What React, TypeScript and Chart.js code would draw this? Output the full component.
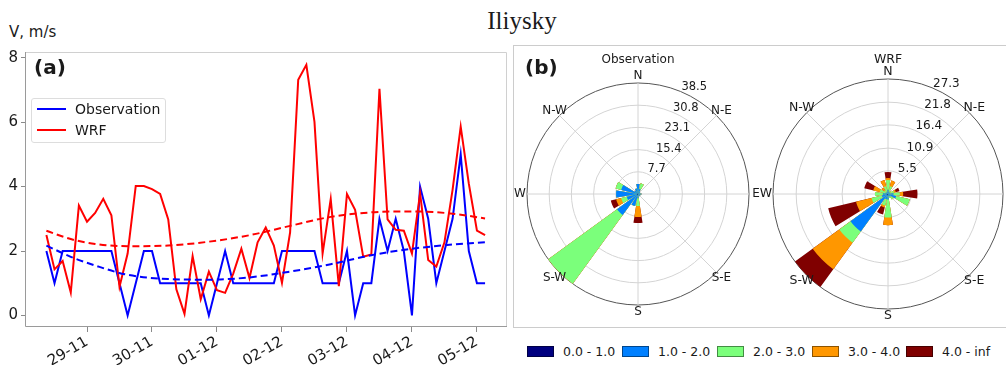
import React, { useEffect, useRef } from 'react';
import { Chart, registerables } from 'chart.js';

Chart.register(...registerables);
Chart.defaults.font.family = 'DejaVu Sans';
Chart.defaults.color = '#1a1a1a';

// ---------- panel (a): 3-hourly wind speed, first sample 28-11 09:00 ----------
const dayLabels = ['29-11', '30-11', '01-12', '02-12', '03-12', '04-12', '05-12'];
const startHour = -15; // hours relative to 29-11 00:00
const stepHours = 3;

const observation = [
  2, 1, 2, 2, 2, 2, 2, 2, 2, 1,
  0, 1, 2, 2, 1, 1, 1, 1, 1, 1,
  0, 1, 2, 1, 1, 1, 1, 1, 1, 2,
  2, 2, 2, 2, 1, 1, 1, 2, 0, 1,
  1, 3, 2, 3, 2, 0, 4, 3, 1, 2,
  3, 5, 2, 1, 1,
];
const wrf = [
  2.5, 1.43, 1.69, 0.71, 3.41, 2.91, 3.18, 3.62, 3.11, 0.89,
  1.92, 4.02, 4.02, 3.92, 3.77, 2.98, 0.81, 0.05, 1.84, 0.5,
  1.36, 0.78, 0.7, 1.3, 2.07, 1.16, 2.27, 2.73, 2.17, 1.01,
  2.58, 7.32, 7.78, 6.01, 1.92, 3.61, 0.91, 3.77, 3.28, 1.82,
  1.89, 7.04, 2.98, 2.66, 2.63, 1.92, 3.79, 1.72, 1.52, 2.27,
  3.9, 5.86, 4.09, 2.63, 2.49,
];
// smoothed trends, sampled at these sample indices
const trendIndex = [0, 3, 6, 10, 15, 20, 25, 30, 35, 40, 45, 50, 54];
const observationTrend = [2.17, 1.82, 1.55, 1.26, 1.13, 1.11, 1.18, 1.36, 1.59, 1.87, 2.07, 2.2, 2.27];
const wrfTrend = [2.63, 2.37, 2.22, 2.15, 2.17, 2.29, 2.49, 2.78, 3.06, 3.2, 3.23, 3.16, 3.01];

// ---------- panel (b): wind roses, 16 sectors N, NNE, ... NNW (percent) ----------
const compassLabels = ['N', 'N-E', 'E', 'S-E', 'S', 'S-W', 'W', 'N-W'];
const speedBins = ['0.0 - 1.0', '1.0 - 2.0', '2.0 - 3.0', '3.0 - 4.0', '4.0 - inf'];
const binColors = ['#000080', '#0080ff', '#7bff7b', '#ff9700', '#800000'];

const obsRings = [7.7, 15.4, 23.1, 30.8, 38.5];
const obsBin0 = [0.3, 0, 0, 0, 0, 0, 0, 0, 0, 0.3, 0.5, 0.3, 0.3, 0, 0, 0];
const obsBin1 = [3.2, 1.8, 1.0, 0.6, 1.2, 0.8, 1.0, 0.6, 1.5, 4.0, 8.5, 3.7, 7.3, 6.0, 1.5, 2.0];
const obsBin2 = [0, 2.0, 0, 0, 0, 0, 0, 0, 2.7, 0, 29.5, 2.0, 0, 2.0, 0, 0];
const obsBin3 = [0, 0, 0, 0, 0, 0, 0, 0, 3.8, 0, 0, 1.8, 0, 0, 0, 0];
const obsBin4 = [0, 0, 0, 0, 0, 0, 0, 0, 2.1, 0, 0, 1.9, 0, 0, 0, 0];

const wrfRings = [5.5, 10.9, 16.4, 21.8, 27.3];
const wrfBin0 = [0, 0, 0, 0, 0, 0, 0, 0, 0.3, 0.3, 0.3, 0.3, 0, 0, 0, 0];
const wrfBin1 = [1.0, 0.6, 0.5, 0.5, 1.3, 2.0, 0.8, 0.5, 1.0, 1.0, 10.7, 1.2, 1.2, 0.6, 0.5, 0.6];
const wrfBin2 = [2.3, 1.3, 0.4, 1.0, 1.5, 3.3, 0.8, 0.5, 4.3, 1.5, 3.3, 2.5, 1.9, 1.4, 0.6, 1.3];
const wrfBin3 = [0.5, 1.4, 0, 0.4, 0.8, 0, 0, 0, 1.8, 0.5, 7.8, 3.8, 0, 1.6, 0.8, 1.5];
const wrfBin4 = [1.4, 0, 0, 0.9, 3.4, 0, 0, 0, 0, 1.7, 5.2, 6.8, 0, 2.2, 0, 0];

const BAR_DEG = 18;
const GAP_DEG = 4.5;

const hourOf = (i: number) => startHour + stepHours * i;

const framePlugin = {
  id: 'axesFrame',
  beforeDatasetsDraw(chart: any) {
    const { ctx, chartArea: a } = chart;
    ctx.save();
    ctx.lineWidth = 1;
    ctx.strokeStyle = '#d0d0d0';
    ctx.beginPath();
    ctx.moveTo(a.left, a.top + 0.5);
    ctx.lineTo(a.right - 0.5, a.top + 0.5);
    ctx.lineTo(a.right - 0.5, a.bottom);
    ctx.stroke();
    ctx.strokeStyle = '#9a9a9a';
    ctx.beginPath();
    ctx.moveTo(a.left + 0.5, a.top);
    ctx.lineTo(a.left + 0.5, a.bottom - 0.5);
    ctx.lineTo(a.right, a.bottom - 0.5);
    ctx.stroke();
    ctx.restore();
  },
};

function lineConfig(): any {
  return {
    type: 'line',
    data: {
      datasets: [
        {
          label: 'WRF trend',
          data: trendIndex.map((k, j) => ({ x: hourOf(k), y: wrfTrend[j] })),
          borderColor: '#ff0000',
          borderWidth: 2,
          borderDash: [7, 4],
          cubicInterpolationMode: 'monotone',
          pointRadius: 0,
          order: 0,
        },
        {
          label: 'Observation trend',
          data: trendIndex.map((k, j) => ({ x: hourOf(k), y: observationTrend[j] })),
          borderColor: '#0000ff',
          borderWidth: 2,
          borderDash: [7, 4],
          cubicInterpolationMode: 'monotone',
          pointRadius: 0,
          order: 1,
        },
        {
          label: 'WRF',
          data: wrf.map((v, i) => ({ x: hourOf(i), y: v })),
          borderColor: '#ff0000',
          borderWidth: 2,
          pointRadius: 0,
          tension: 0,
          order: 2,
        },
        {
          label: 'Observation',
          data: observation.map((v, i) => ({ x: hourOf(i), y: v })),
          borderColor: '#0000ff',
          borderWidth: 2,
          pointRadius: 0,
          tension: 0,
          order: 3,
        },
      ],
    },
    options: {
      animation: false,
      responsive: false,
      layout: { padding: { top: 5, right: 5, left: 0, bottom: 0 } },
      plugins: { legend: { display: false }, tooltip: { enabled: false } },
      scales: {
        x: {
          type: 'linear',
          min: -22.9,
          max: 155.1,
          afterFit: (s: any) => { s.height = 38; },
          border: { display: false },
          grid: { drawOnChartArea: false, tickLength: 5, color: '#8a8a8a' },
          ticks: {
            stepSize: 24,
            includeBounds: false,
            autoSkip: false,
            minRotation: 30,
            maxRotation: 30,
            padding: 1,
            color: '#1a1a1a',
            font: { size: 15, family: 'DejaVu Sans' },
            callback: (v: any) => dayLabels[Math.round(Number(v) / 24)] ?? '',
          },
        },
        y: {
          type: 'linear',
          min: -0.36,
          max: 8.18,
          afterFit: (s: any) => { s.width = 25; },
          border: { display: false },
          grid: { drawOnChartArea: false, tickLength: 4, color: '#8a8a8a' },
          ticks: {
            stepSize: 2,
            includeBounds: false,
            padding: 3,
            color: '#1a1a1a',
            font: { size: 15, family: 'DejaVu Sans' },
          },
        },
      },
    },
    plugins: [framePlugin],
  };
}

// Decorations of a wind rose: spokes, ring values, compass points and title
const rosePlugin = {
  id: 'roseDecor',
  beforeDatasetsDraw(chart: any) {
    const r = chart.scales.r;
    const ctx = chart.ctx;
    const cx = r.xCenter;
    const cy = r.yCenter;
    const R = r.drawingArea;
    ctx.save();
    ctx.strokeStyle = '#d4d4d4';
    ctx.lineWidth = 1;
    for (let k = 0; k < 8; k++) {
      const a = (k * Math.PI) / 4;
      ctx.beginPath();
      ctx.moveTo(cx, cy);
      ctx.lineTo(cx + R * Math.sin(a), cy - R * Math.cos(a));
      ctx.stroke();
    }
    ctx.restore();
  },
  afterDatasetsDraw(chart: any, _args: any, opts: any) {
    const r = chart.scales.r;
    const ctx = chart.ctx;
    const cx = r.xCenter;
    const cy = r.yCenter;
    const R = r.drawingArea;
    ctx.save();
    ctx.fillStyle = '#1a1a1a';
    // ring values along the 22.5 degree ray
    ctx.font = `${opts.ringFont}px "DejaVu Sans"`;
    ctx.textAlign = 'left';
    ctx.textBaseline = 'alphabetic';
    const ra = (22.5 * Math.PI) / 180;
    (opts.rings as number[]).forEach((v) => {
      const d = r.getDistanceFromCenterForValue(v);
      ctx.fillText(v.toFixed(1), cx + d * Math.sin(ra) + 1, cy - d * Math.cos(ra) - 1);
    });
    // compass points
    ctx.font = `${opts.labelFont}px "DejaVu Sans"`;
    ctx.textAlign = 'center';
    ctx.textBaseline = 'middle';
    compassLabels.forEach((lab, k) => {
      const a = (k * Math.PI) / 4;
      const d = R + 7;
      ctx.fillText(lab, cx + d * Math.sin(a), cy - d * Math.cos(a));
    });
    // title
    ctx.font = `${opts.titleFont}px "DejaVu Sans"`;
    ctx.fillText(opts.title, cx, cy - 134);
    ctx.restore();
  },
};

function roseConfig(bins: number[][], rings: number[], title: string, pad: number, fonts: number[]): any {
  // cumulative stacks; the first dataset is drawn on top
  const cumulative = bins.map((_, j) =>
    bins[0].map((_v, d) => bins.slice(0, j + 1).reduce((s, b) => s + b[d], 0))
  );
  const slots = (vals: number[]) => vals.flatMap((v) => [v, 0]);
  const slotLabels = bins[0].flatMap((_v, d) => [`d${d}`, `g${d}`]);
  const max = rings[rings.length - 1];
  return {
    type: 'polarArea',
    data: {
      labels: slotLabels,
      datasets: cumulative.map((vals, j) => ({
        label: speedBins[j],
        data: slots(vals),
        backgroundColor: binColors[j],
        borderWidth: 0,
        angle: (c: any) => (c.dataIndex % 2 === 0 ? BAR_DEG : GAP_DEG),
      })),
    },
    options: {
      animation: false,
      responsive: false,
      layout: { padding: pad },
      plugins: {
        legend: { display: false },
        tooltip: { enabled: false },
        roseDecor: { rings, title, ringFont: fonts[0], labelFont: fonts[1], titleFont: fonts[2] },
      },
      scales: {
        r: {
          min: 0,
          max,
          startAngle: -BAR_DEG / 2,
          afterBuildTicks: (s: any) => {
            s.ticks = [0, ...rings].map((v) => ({ value: v }));
          },
          ticks: { display: false },
          pointLabels: { display: false },
          angleLines: { display: false },
          grid: {
            circular: true,
            lineWidth: 1,
            color: (c: any) => (c.tick && Math.abs(c.tick.value - max) < 1e-6 ? '#555555' : '#d4d4d4'),
          },
        },
      },
    },
    plugins: [rosePlugin],
  };
}

const txt = (
  text: string,
  left: number,
  cy: number,
  size: number,
  extra: React.CSSProperties = {}
) => (
  <div
    style={{
      position: 'absolute',
      left,
      top: cy - size * 0.6,
      height: size * 1.2,
      lineHeight: `${size * 1.2}px`,
      fontSize: size,
      fontFamily: '"DejaVu Sans"',
      color: '#1a1a1a',
      whiteSpace: 'nowrap',
      ...extra,
    }}
  >
    {text}
  </div>
);

export default function App() {
  const lineRef = useRef<HTMLCanvasElement>(null);
  const obsRef = useRef<HTMLCanvasElement>(null);
  const wrfRef = useRef<HTMLCanvasElement>(null);

  useEffect(() => {
    const charts = [
      new Chart(lineRef.current as HTMLCanvasElement, lineConfig()),
      new Chart(
        obsRef.current as HTMLCanvasElement,
        roseConfig([obsBin0, obsBin1, obsBin2, obsBin3, obsBin4], obsRings, 'Observation', 39, [11.5, 12, 12])
      ),
      new Chart(
        wrfRef.current as HTMLCanvasElement,
        roseConfig([wrfBin0, wrfBin1, wrfBin2, wrfBin3, wrfBin4], wrfRings, 'WRF', 35, [12, 12.5, 12.5])
      ),
    ];
    return () => charts.forEach((c) => c.destroy());
  }, []);

  const legendX = [527, 622, 717, 812, 906];

  return (
    <div
      style={{
        position: 'fixed',
        left: 0,
        top: 0,
        width: 1006,
        height: 365,
        overflow: 'hidden',
        background: '#ffffff',
      }}
    >
      {txt('Iliysky', 0, 21, 25, {
        width: 1044,
        textAlign: 'center',
        fontFamily: '"Liberation Serif"',
      })}
      {txt('V, m/s', 9, 32, 15)}

      {/* panel (b) frame */}
      <div
        style={{
          position: 'absolute',
          left: 513,
          top: 45,
          width: 520,
          height: 281,
          border: '1px solid #cccccc',
        }}
      />

      <canvas ref={lineRef} width={512} height={325} style={{ position: 'absolute', left: 0, top: 40 }} />
      <canvas ref={obsRef} width={300} height={300} style={{ position: 'absolute', left: 488, top: 44 }} />
      <canvas ref={wrfRef} width={300} height={300} style={{ position: 'absolute', left: 738, top: 44 }} />

      {txt('(a)', 34, 67, 20, { fontWeight: 'bold' })}
      {txt('(b)', 525, 67, 20, { fontWeight: 'bold' })}

      {/* series legend of panel (a) */}
      <div
        style={{
          position: 'absolute',
          left: 31,
          top: 98,
          width: 133,
          height: 43,
          border: '1px solid #dddddd',
          borderRadius: 3,
          background: 'rgba(255,255,255,0.85)',
        }}
      >
        <div style={{ position: 'absolute', left: 5, top: 9, width: 29, height: 2, background: '#0000ff' }} />
        <div style={{ position: 'absolute', left: 5, top: 30, width: 29, height: 2, background: '#ff0000' }} />
        {txt('Observation', 43, 10, 14)}
        {txt('WRF', 43, 31, 14)}
      </div>

      {/* speed-bin legend of panel (b) */}
      {speedBins.map((lab, k) => (
        <React.Fragment key={lab}>
          <div
            style={{
              position: 'absolute',
              left: legendX[k],
              top: 346,
              width: 25,
              height: 9,
              background: binColors[k],
              border: '1px solid rgba(0,0,0,0.45)',
            }}
          />
          {txt(lab, legendX[k] + 36, 351, 12.5)}
        </React.Fragment>
      ))}
    </div>
  );
}
